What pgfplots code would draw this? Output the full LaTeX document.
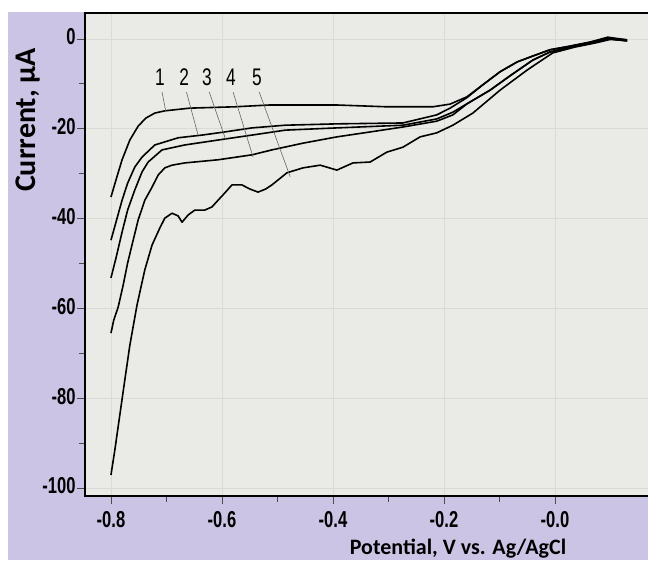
\documentclass[border=0pt]{standalone}
\usepackage{fontspec}
\setmainfont{Liberation Sans}
\newfontfamily\tickfont{Liberation Sans}[FakeStretch=0.72]
\newfontfamily\labfont{Carlito}
\usepackage{pgfplots}
\pgfplotsset{compat=1.18}
\definecolor{bgpurple}{RGB}{204,196,228}
\definecolor{plotbg}{RGB}{234,234,230}
\definecolor{gridc}{RGB}{218,218,214}

\begin{document}
\begin{tikzpicture}[x=1pt,y=1pt]
% backgrounds
\fill[white] (-85,-64) rectangle (563,496);
\fill[bgpurple] (-77,-64) rectangle (563,484);
\begin{axis}[
    at={(0,0)}, anchor=south west,
    scale only axis,
    width=565pt, height=483pt,
    xmin=-0.8468, xmax=0.1712,
    ymin=-101.78, ymax=5.79,
    axis background/.style={fill=plotbg},
    axis line style={draw=none},
    xtick={-0.8,-0.6,-0.4,-0.2,0},
    xticklabels={-0.8,-0.6,-0.4,-0.2,-0.0},
    ytick={0,-20,-40,-60,-80,-100},
    yticklabels={0,-20,-40,-60,-80,-100},
    minor x tick num=1, minor y tick num=1,
    tick pos=left, tick align=outside,
    major tick length=8pt, minor tick length=6pt,
    tick style={black!70, line width=0.8pt},
    grid=major,
    major grid style={gridc, line width=0.8pt},
    ticklabel style={font=\tickfont\bfseries\fontsize{23}{23}\selectfont},
    yticklabel style={xshift=2pt, yshift=2pt},
    xticklabel style={yshift=-4pt},
    clip=false,
    cycle list={{black}},
    every axis plot post/.append style={black, line width=1.6pt, line join=round, mark=none},
]
% curve 1
\addplot coordinates {(-0.800,-35.2) (-0.791,-31.4) (-0.780,-26.9) (-0.766,-22.5) (-0.751,-19.4) (-0.737,-17.6) (-0.721,-16.5) (-0.703,-16.0) (-0.658,-15.4) (-0.577,-15.1) (-0.514,-14.7) (-0.393,-14.7) (-0.303,-15.1) (-0.220,-15.1) (-0.189,-14.5) (-0.159,-12.9) (-0.130,-10.2) (-0.099,-7.3) (-0.068,-5.1) (-0.040,-3.8) (-0.009,-2.4) (0.027,-1.6) (0.063,-0.7) (0.095,0.4) (0.130,-0.2)};
% curve 2
\addplot coordinates {(-0.800,-44.8) (-0.791,-40.8) (-0.780,-35.9) (-0.770,-32.1) (-0.757,-28.5) (-0.744,-26.3) (-0.721,-23.6) (-0.679,-22.0) (-0.636,-21.4) (-0.595,-20.7) (-0.546,-19.8) (-0.486,-19.2) (-0.393,-18.9) (-0.274,-18.7) (-0.213,-16.9) (-0.189,-15.4) (-0.159,-13.1) (-0.130,-10.2) (-0.099,-7.3) (-0.068,-5.1) (-0.040,-3.8) (-0.009,-2.4) (0.027,-1.6) (0.063,-0.7) (0.095,0.2) (0.130,-0.2)};
% curve 3
\addplot coordinates {(-0.800,-53.2) (-0.791,-48.8) (-0.780,-43.0) (-0.770,-38.1) (-0.757,-33.6) (-0.744,-29.6) (-0.733,-27.4) (-0.708,-24.7) (-0.667,-23.6) (-0.607,-22.5) (-0.546,-21.4) (-0.486,-20.3) (-0.393,-19.8) (-0.274,-19.2) (-0.213,-17.8) (-0.184,-16.3) (-0.153,-14.0) (-0.117,-11.4) (-0.081,-8.2) (-0.040,-4.7) (-0.009,-2.9) (0.027,-1.8) (0.063,-0.9) (0.095,0.0) (0.130,-0.4)};
% curve 4
\addplot coordinates {(-0.800,-65.5) (-0.795,-62.6) (-0.787,-59.7) (-0.778,-54.8) (-0.770,-49.9) (-0.760,-44.8) (-0.751,-40.3) (-0.739,-35.9) (-0.726,-33.0) (-0.715,-30.3) (-0.703,-28.7) (-0.690,-28.1) (-0.667,-27.6) (-0.607,-26.9) (-0.546,-25.8) (-0.510,-24.7) (-0.454,-23.2) (-0.393,-21.8) (-0.333,-20.7) (-0.274,-19.6) (-0.213,-18.3) (-0.184,-16.9) (-0.159,-14.5) (-0.117,-11.4) (-0.081,-8.2) (-0.040,-4.7) (-0.009,-2.9) (0.027,-1.8) (0.063,-0.9) (0.095,0.0) (0.130,-0.4)};
% curve 5
\addplot coordinates {(-0.800,-97.1) (-0.793,-91.5) (-0.784,-83.7) (-0.775,-75.9) (-0.766,-68.2) (-0.753,-59.2) (-0.739,-51.4) (-0.726,-45.9) (-0.712,-42.1) (-0.703,-39.9) (-0.690,-38.8) (-0.679,-39.4) (-0.672,-40.8) (-0.661,-39.2) (-0.649,-38.1) (-0.631,-38.1) (-0.618,-37.4) (-0.607,-35.9) (-0.595,-34.3) (-0.582,-32.5) (-0.564,-32.5) (-0.550,-33.4) (-0.535,-34.1) (-0.521,-33.4) (-0.510,-32.5) (-0.495,-31.0) (-0.483,-29.8) (-0.454,-28.7) (-0.423,-28.1) (-0.393,-29.2) (-0.364,-27.6) (-0.333,-27.4) (-0.303,-25.2) (-0.274,-24.1) (-0.243,-21.8) (-0.213,-20.9) (-0.184,-19.2) (-0.148,-16.5) (-0.099,-11.4) (-0.050,-6.9) (-0.004,-3.1) (0.036,-1.8) (0.072,-0.9) (0.103,0.0) (0.130,-0.4)};
% curve numbers and leader lines
\foreach \n/\xl/\xa/\ya in {1/-0.712/-0.701/-16.3, 2/-0.668/-0.643/-21.4, 3/-0.627/-0.593/-22.5, 4/-0.584/-0.544/-26.3, 5/-0.537/-0.477/-30.7} {
  \edef\temp{\noexpand\node[font=\noexpand\tickfont\noexpand\fontsize{24}{24}\noexpand\selectfont, inner sep=0pt] at (axis cs:\xl,-8.6) {\n};
  \noexpand\draw[gray!80!black, line width=0.6pt] (axis cs:\xl+0.004,-11.8) -- (axis cs:\xa,\ya);}
  \temp
}
% axis frame: left, bottom, top
\draw[black, line width=2pt] (rel axis cs:1.02,1) -- (rel axis cs:0,1) -- (rel axis cs:0,0) -- (rel axis cs:1.02,0);
\end{axis}
\node[rotate=90, font=\labfont\bfseries\fontsize{30}{30}\selectfont] at (-57,376) {Current, μA};
\node[anchor=base, font=\labfont\bfseries\fontsize{22}{22}\selectfont] at (373,-58) {Potential, V vs. Ag/AgCl};
\pgfresetboundingbox
\useasboundingbox (-85,-64) rectangle (563,496);
\end{tikzpicture}
\end{document}
